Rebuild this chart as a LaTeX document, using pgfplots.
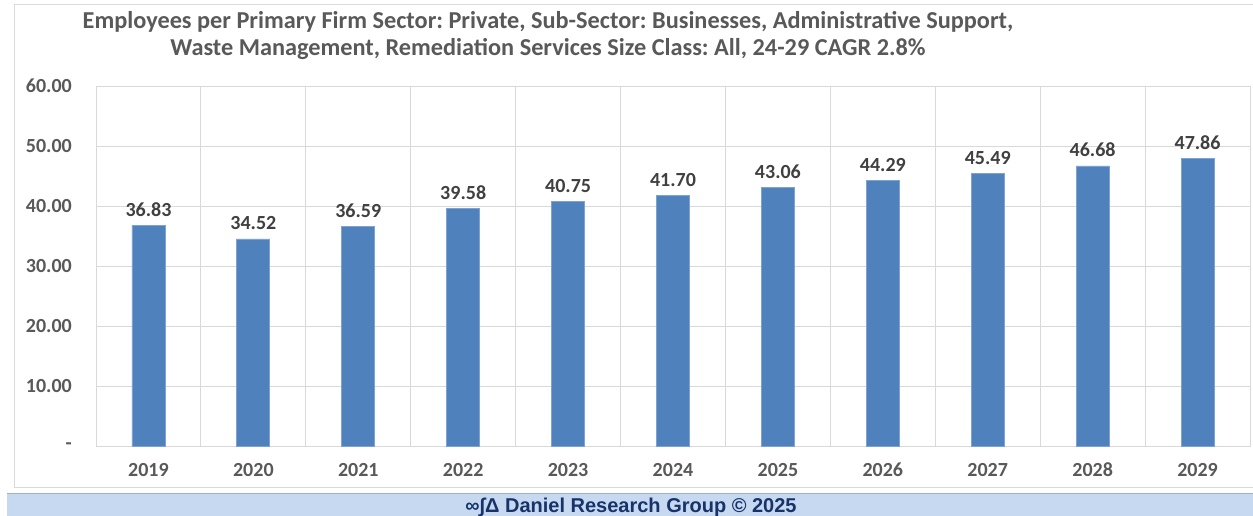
\documentclass[border=0pt]{standalone}
\usepackage{pgfplots}
\pgfplotsset{compat=1.18}
\usepackage{fontspec}
\setmainfont{Carlito}
\newfontfamily\footfont{Liberation Sans}
\frenchspacing
\definecolor{barblue}{HTML}{4F81BD}
\definecolor{baredge}{HTML}{7EA3D3}
\definecolor{gridgray}{HTML}{D9D9D9}
\definecolor{txtgray}{HTML}{595959}
\definecolor{lblgray}{HTML}{404040}
\definecolor{footbg}{HTML}{C6D9F1}
\definecolor{footline}{HTML}{9FB2C8}
\definecolor{foottxt}{HTML}{17336A}
\begin{document}
\frenchspacing
\begin{tikzpicture}[x=1pt,y=1pt]
\useasboundingbox (0,0) rectangle (1253,-516);
\fill[white] (0,0) rectangle (1253,-516);
\draw[gridgray, line width=1pt] (14,-5) rectangle (1262,-487);
\fill[footbg] (7,-493) rectangle (1253,-516);
\draw[footline, line width=1.5pt] (7,-493.5) -- (1253,-493.5);
\node[font=\footfont\bfseries\fontsize{20}{20}\selectfont, text=foottxt, anchor=base] at (631,-512) {∞∫Δ Daniel Research Group © 2025};
\node[font=\bfseries\fontsize{24.3}{24}\selectfont, text=txtgray, anchor=base] at (548,-29) {Employees per Primary Firm Sector: Private, Sub-Sector: Businesses, Administrative Support,};
\node[font=\bfseries\fontsize{24.3}{24}\selectfont, text=txtgray, anchor=base] at (548,-55.5) {Waste Management, Remediation Services Size Class: All, 24-29 CAGR 2.8\%};
\begin{axis}[
  at={(96pt,-446pt)}, anchor=south west,
  scale only axis, width=1154pt, height=360pt,
  xmin=-0.5, xmax=10.5, ymin=0, ymax=60,
  ybar, bar width=33pt,
  xtick={0,...,10},
  xticklabels={2019,2020,2021,2022,2023,2024,2025,2026,2027,2028,2029},
  minor xtick={-0.5,0.5,...,10.5},
  xminorgrids, ymajorgrids,
  ytick={0,10,...,60},
  yticklabels={-\hspace{9pt},10.00,20.00,30.00,40.00,50.00,60.00},
  major tick length=0pt, minor tick length=0pt,
  grid style={gridgray, line width=1pt},
  minor grid style={gridgray, line width=1pt},
  axis line style={gridgray, line width=1pt},
  tick label style={font=\bfseries\fontsize{20}{20}\selectfont, text=txtgray},
  yticklabel style={anchor=east, inner sep=0pt, xshift=-24pt},
  xticklabel style={anchor=base, inner sep=0pt, yshift=-30.5pt},
  nodes near coords,
  nodes near coords style={font=\bfseries\fontsize{20}{20}\selectfont, text=lblgray, anchor=base, inner sep=0pt, yshift=9pt,
    /pgf/number format/.cd, fixed, fixed zerofill, precision=2, assume math mode=true},
]
\addplot[fill=barblue, draw=baredge, line width=0.75pt] coordinates {
(0,36.83) (1,34.52) (2,36.59) (3,39.58) (4,40.75) (5,41.70)
(6,43.06) (7,44.29) (8,45.49) (9,46.68) (10,47.86)};
\end{axis}
\end{tikzpicture}
\end{document}
